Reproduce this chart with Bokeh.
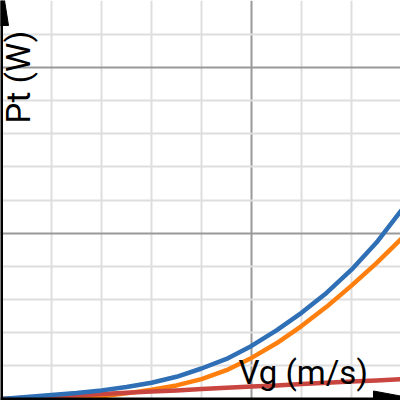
from bokeh.plotting import figure
from bokeh.models import Grid, FixedTicker, Span, Range1d
from bokeh.core.properties import value
from bokeh.embed import file_html
from bokeh.resources import INLINE

# wind speed (m/s)
vg = [0, 0.5, 1, 1.5, 2, 2.5, 3, 3.5, 4, 4.5, 5, 5.5, 6, 6.5, 7, 7.5, 8]
# total power (blue)
pt_total = [0.0, 0.06, 0.12, 0.18, 0.26, 0.36, 0.49, 0.67, 0.92, 1.21, 1.6, 2.07, 2.6, 3.2, 3.9, 4.72, 5.7]
# cubic component (orange)
pt_cubic = [0.0, 0.0, 0.01, 0.03, 0.08, 0.17, 0.28, 0.41, 0.6, 0.87, 1.24, 1.68, 2.2, 2.78, 3.42, 4.1, 4.84]
# linear component (red)
pt_linear = [0.0, 0.04, 0.08, 0.11, 0.15, 0.19, 0.23, 0.26, 0.3, 0.34, 0.38, 0.41, 0.45, 0.49, 0.53, 0.56, 0.6]

x_major = [5]
x_minor = [1, 2, 3, 4, 6, 7]
y_major = [5, 10]
y_minor = [1, 2, 3, 4, 6, 7, 8, 9, 11]

x_label = "Vg (m/s)"
y_label = "Pt (W)"

W = H = 400
x0, x1 = -0.02, 7.98
y0, y1 = -0.045, 12.02
kx = (x1 - x0) / W   # data units per pixel (x)
ky = (y1 - y0) / H   # data units per pixel (y)

p = figure(width=W, height=H, output_backend="svg", toolbar_location=None,
           x_axis_type=None, y_axis_type=None, min_border=0,
           x_range=Range1d(x0, x1), y_range=Range1d(y0, y1))
p.outline_line_color = None
p.background_fill_color = "white"

gx = Grid(dimension=0, ticker=FixedTicker(ticks=x_major, minor_ticks=x_minor),
          grid_line_color="#999999", grid_line_width=2,
          minor_grid_line_color="#dedede", minor_grid_line_width=2)
gy = Grid(dimension=1, ticker=FixedTicker(ticks=y_major, minor_ticks=y_minor),
          grid_line_color="#999999", grid_line_width=2,
          minor_grid_line_color="#dedede", minor_grid_line_width=2)
p.add_layout(gx)
p.add_layout(gy)

# axes lines
p.add_layout(Span(location=0, dimension="width", line_color="black", line_width=3))
p.add_layout(Span(location=0, dimension="height", line_color="black", line_width=3))

# arrow heads (sizes in pixels converted to data units)
ax_base = x0 + 373 * kx
ax_tip = x0 + 416 * kx
ax_hw = 8 * ky
p.patch([ax_base, ax_tip, ax_base], [-ax_hw, 0, ax_hw], color="black")
ay_base = y1 - 25 * ky
ay_tip = y1 + 19 * ky
ay_hw = 7 * kx
p.patch([-ay_hw, 0, ay_hw], [ay_base, ay_tip, ay_base], color="black")

p.line(vg, pt_cubic, line_color="#ff7f0e", line_width=4.5, line_join="round")
p.line(vg, pt_linear, line_color="#c9453f", line_width=4.5, line_join="round")
p.line(vg, pt_total, line_color="#2f6fb5", line_width=4.5, line_join="round")

fs = "33px"
p.text(x=[x0 + 238 * kx], y=[y0 + (400 - 372) * ky], text=[x_label],
       text_font=value("Roboto"), text_font_size=fs, text_color="black",
       text_align="left", text_baseline="alphabetic")
p.text(x=[x0 + 18 * kx], y=[y0 + (400 - 123) * ky], text=[y_label], angle=1.5708,
       text_font=value("Roboto"), text_font_size=fs, text_color="black",
       text_align="left", text_baseline="alphabetic")

open("out.html", "w").write(file_html(p, INLINE))
